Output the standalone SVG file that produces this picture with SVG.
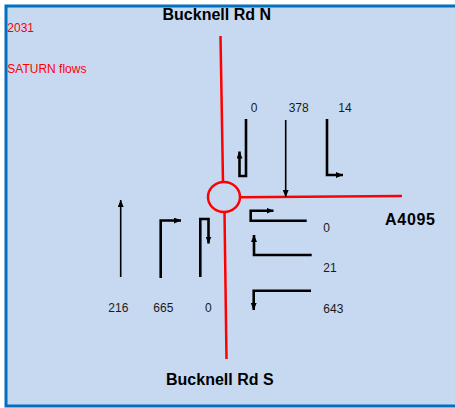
<svg xmlns="http://www.w3.org/2000/svg" width="455" height="408" viewBox="0 0 455 408">
  <style>
    .road { fill: none; stroke: #ff0000; stroke-width: 2.5; }
    .mv { fill: none; stroke: #000; stroke-width: 2.6; stroke-linejoin: miter; }
    .thin { stroke-width: 1.6; }
    .num { font-family: "Liberation Sans", Arial, sans-serif; font-size: 12px; fill: #1a1a1a; }
    .red { font-family: "Liberation Sans", Arial, sans-serif; font-size: 12px; fill: #ff0000; }
    .title { font-family: "Liberation Sans", Arial, sans-serif; font-size: 16px; font-weight: bold; fill: #000; }
  </style>
  <defs>
    <marker id="ah" viewBox="0 0 7 6" refX="7" refY="3" markerWidth="7" markerHeight="6" markerUnits="userSpaceOnUse" orient="auto">
      <path d="M0,0 L7,3 L0,6 z" fill="#000"/>
    </marker>
  </defs>
  <rect x="0" y="0" width="455" height="408" fill="#ffffff"/>
  <rect x="6" y="6" width="460" height="400" fill="#c6d9f1" stroke="#0070c0" stroke-width="3"/>

  <g id="roads">
    <path class="road" d="M220.5,36 L223,182"/>
    <path class="road" d="M224.5,212 L226.5,359"/>
    <path class="road" d="M240,197.3 L402,196"/>
    <ellipse id="junction" class="road" cx="224" cy="197" rx="16" ry="15"/>
  </g>

  <g id="connectors">
    <path class="mv" d="M246,119 V176 H239.5 V151.5" marker-end="url(#ah)"/>
    <path class="mv thin" d="M285.7,120 V197" marker-end="url(#ah)"/>
    <path class="mv" d="M327,119 V175 H343" marker-end="url(#ah)"/>
    <path class="mv thin" d="M120.7,277 V200" marker-end="url(#ah)"/>
    <path class="mv" d="M160.7,278 V220.5 H181" marker-end="url(#ah)"/>
    <path class="mv" d="M200.3,277 V219 H208.5 V243.5" marker-end="url(#ah)"/>
    <path class="mv" d="M306.7,220.7 H250.7 V210.7 H273.5" marker-end="url(#ah)"/>
    <path class="mv" d="M311.7,255 H254 V235" marker-end="url(#ah)"/>
    <path class="mv" d="M311,290.7 H253.7 V310" marker-end="url(#ah)"/>
  </g>

  <g id="labels">
    <text class="red" x="7.3" y="32">2031</text>
    <text class="red" x="7.3" y="72.5">SATURN flows</text>
    <text class="title" x="162.5" y="19.5">Bucknell Rd N</text>
    <text class="title" x="166" y="385">Bucknell Rd S</text>
    <text class="title" x="385" y="224.5" textLength="50">A4095</text>
    <text class="num" x="250.7" y="111.5">0</text>
    <text class="num" x="288.7" y="111.5">378</text>
    <text class="num" x="338.3" y="111.5">14</text>
    <text class="num" x="108.3" y="312">216</text>
    <text class="num" x="153.3" y="312">665</text>
    <text class="num" x="205" y="312">0</text>
    <text class="num" x="323.3" y="232">0</text>
    <text class="num" x="323.3" y="272">21</text>
    <text class="num" x="323.3" y="312.5">643</text>
  </g>
</svg>
